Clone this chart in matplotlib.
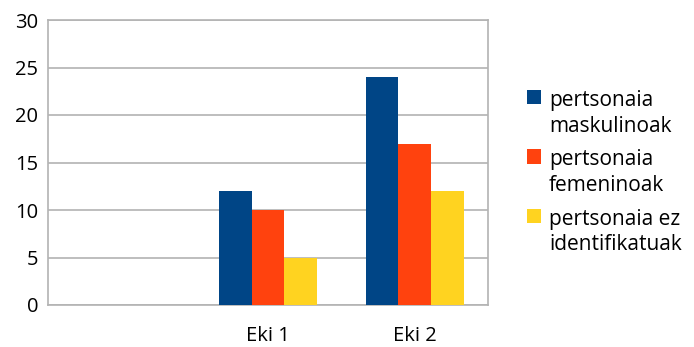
import matplotlib
matplotlib.use("Agg")
import matplotlib.pyplot as plt
import numpy as np

categories = ["", "Eki 1", "Eki 2"]
series_names = ["pertsonaia\nmaskulinoak", "pertsonaia\nfemeninoak", "pertsonaia ez\nidentifikatuak"]
maskulinoak = [0, 12, 24]
femeninoak = [0, 10, 17]
ez_identifikatuak = [0, 5, 12]
colors = ["#004586", "#ff420e", "#ffd320"]
yticks = [0, 5, 10, 15, 20, 25, 30]

plt.rcParams['font.family'] = ['Open Sans', 'DejaVu Sans']

fig = plt.figure(figsize=(6.94, 3.47), dpi=100)
ax = fig.add_axes([48/694, 1-305/347, (488-48)/694, (305-20)/347])

x = np.arange(len(categories))
w = 0.223
series = [maskulinoak, femeninoak, ez_identifikatuak]
for i, (vals, name, c) in enumerate(zip(series, series_names, colors)):
    ax.bar(x + (i-1)*w, vals, width=w, color=c, label=name, zorder=3)

ax.set_xlim(-0.5, len(categories)-0.5)
ax.set_ylim(0, 30)
ax.set_yticks(yticks)
ax.set_xticks(x)
ax.set_xticklabels(categories)
ax.tick_params(axis='both', length=0, labelsize=14.5, colors='#000000')
ax.tick_params(axis='x', pad=15)
ax.tick_params(axis='y', pad=7)
ax.grid(axis='y', color='#b3b3b3', linewidth=1.2, zorder=0)
for s in ax.spines.values():
    s.set_color('#b3b3b3')
    s.set_linewidth(1.2)

fs = 15
leg = ax.legend(loc='upper left', bbox_to_anchor=(527/694, 1-90/347), bbox_transform=fig.transFigure,
                frameon=False, fontsize=fs, handlelength=0.68, handleheight=0.68,
                handletextpad=0.38, labelspacing=0.6, borderpad=0, borderaxespad=0)
for t in leg.get_texts():
    t.set_linespacing(1.3)
for col in leg._legend_handle_box.get_children():
    for row in col.get_children():
        row.align = 'top'

fig.savefig("out.png", dpi=100)
